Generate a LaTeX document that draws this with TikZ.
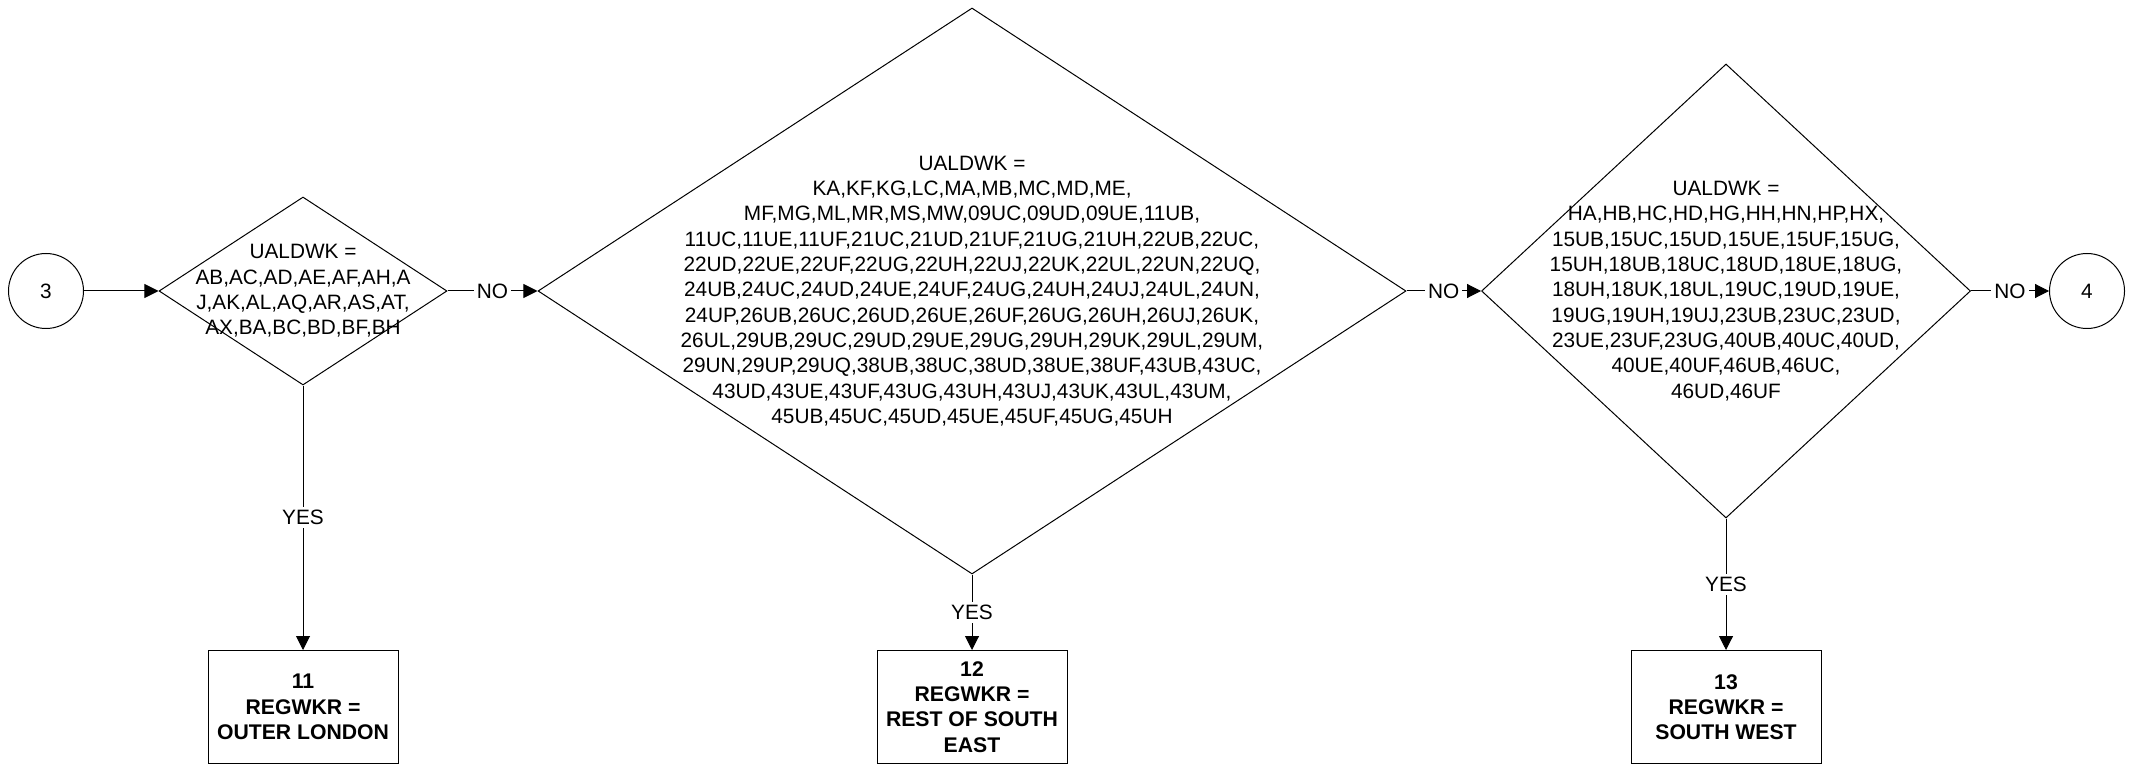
\documentclass[tikz,border=0pt]{standalone}
\usepackage{fontspec}
\setmainfont{Liberation Sans}
\usetikzlibrary{arrows.meta,positioning,shapes.geometric}

\begin{document}
\begin{tikzpicture}[x=0.5pt,y=-0.5pt,
        every node/.style={font=\fontsize{10.4}{12.65}\selectfont},
        decision/.style={draw,diamond,inner sep=0pt,line width=0.5pt},
        codes/.style={align=center,inner sep=0pt},
        outcome/.style={draw,rectangle,minimum width=95pt,minimum height=56.5pt,
            align=center,line width=0.5pt,font=\fontsize{10.6}{12.65}\selectfont\bfseries},
        connector/.style={draw,circle,minimum size=37.5pt,inner sep=0pt,line width=0.5pt},
        flow/.style={-{Triangle[length=7pt,width=7pt]},line width=0.5pt},
        answer/.style={fill=white,inner sep=1.5pt}]
        \useasboundingbox (0,0) rectangle (2129,764);

        % off-page connectors
        \node[connector] (c3) at (46,291) {3};
        \node[connector] (c4) at (2087,291) {4};

        % decisions
        \node[decision,minimum width=144pt,minimum height=94pt] (d1) at (303,291) {};
        \node[codes] (d1t) at (d1.center) {UALDWK =\\AB,AC,AD,AE,AF,AH,A\\J,AK,AL,AQ,AR,AS,AT,\\AX,BA,BC,BD,BF,BH};

        \node[decision,minimum width=434pt,minimum height=283pt] (d2) at (972,291) {};
        \node[codes] (d2t) at (d2.center) {UALDWK =\\
            KA,KF,KG,LC,MA,MB,MC,MD,ME,\\
            MF,MG,ML,MR,MS,MW,09UC,09UD,09UE,11UB,\\
            11UC,11UE,11UF,21UC,21UD,21UF,21UG,21UH,22UB,22UC,\\
            22UD,22UE,22UF,22UG,22UH,22UJ,22UK,22UL,22UN,22UQ,\\
            24UB,24UC,24UD,24UE,24UF,24UG,24UH,24UJ,24UL,24UN,\\
            24UP,26UB,26UC,26UD,26UE,26UF,26UG,26UH,26UJ,26UK,\\
            26UL,29UB,29UC,29UD,29UE,29UG,29UH,29UK,29UL,29UM,\\
            29UN,29UP,29UQ,38UB,38UC,38UD,38UE,38UF,43UB,43UC,\\
            43UD,43UE,43UF,43UG,43UH,43UJ,43UK,43UL,43UM,\\
            45UB,45UC,45UD,45UE,45UF,45UG,45UH};

        \node[decision,minimum width=244.5pt,minimum height=227pt] (d3) at (1726,291) {};
        \node[codes] (d3t) at (d3.center) {UALDWK =\\
            HA,HB,HC,HD,HG,HH,HN,HP,HX,\\
            15UB,15UC,15UD,15UE,15UF,15UG,\\
            15UH,18UB,18UC,18UD,18UE,18UG,\\
            18UH,18UK,18UL,19UC,19UD,19UE,\\
            19UG,19UH,19UJ,23UB,23UC,23UD,\\
            23UE,23UF,23UG,40UB,40UC,40UD,\\
            40UE,40UF,46UB,46UC,\\
            46UD,46UF};

        % results
        \node[outcome,anchor=north] (r11) at (303,650) {11\\REGWKR =\\OUTER LONDON};
        \node[outcome,anchor=north] (r12) at (972,650) {12\\REGWKR =\\REST OF SOUTH\\EAST};
        \node[outcome,anchor=north] (r13) at (1726,650) {13\\REGWKR =\\SOUTH WEST};

        % flow lines
        \draw[flow] (c3) -- (d1);
        \draw[flow] (d1) -- node[answer] {NO} (d2);
        \draw[flow] (d2) -- node[answer] {NO} (d3);
        \draw[flow] (d3) -- node[answer] {NO} (c4);
        \draw[flow] (d1) -- node[answer] {YES} (r11);
        \draw[flow] (d2) -- node[answer] {YES} (r12);
        \draw[flow] (d3) -- node[answer] {YES} (r13);
\end{tikzpicture}
\end{document}
